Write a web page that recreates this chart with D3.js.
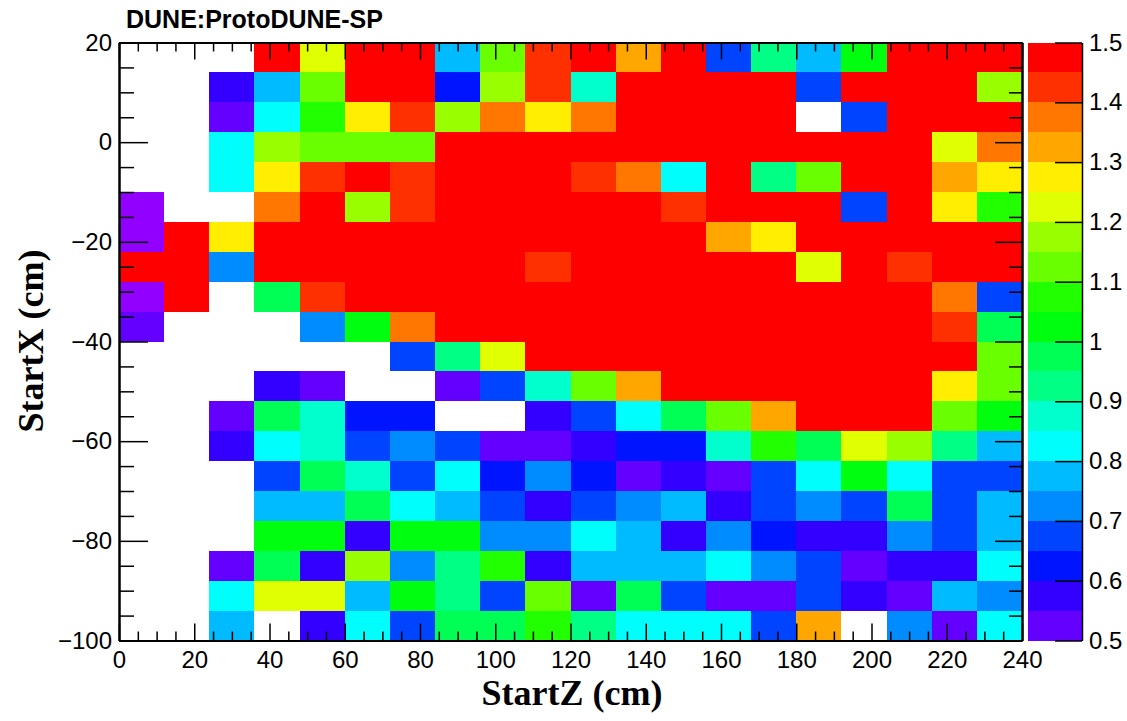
<!DOCTYPE html>
<html>
<head>
<meta charset="utf-8">
<script src="https://cdn.jsdelivr.net/npm/d3@7"></script>
<style>
  html, body { margin: 0; padding: 0; background: #fff; }
  svg { display: block; }
</style>
</head>
<body>
<svg id="chart" width="1127" height="721"></svg>
<script>
// Bin edges of the 2D histogram (cm)
const startZEdges = [0, 12, 24, 36, 48, 60, 72, 84, 96, 108, 120, 132, 144, 156, 168, 180, 192, 204, 216, 228, 240];
// StartX edges from the top row down
const startXEdges = [20, 14, 8, 2, -4, -10, -16, -22, -28, -34, -40, -46, -52, -58, -64, -70, -76, -82, -88, -94, -100];

// Bin contents, one array per StartX row (top row first), one entry per StartZ bin; null = empty bin
const row00 = [null, null, null, 1.48, 1.23, 1.48, 1.48, 0.78, 1.13, 1.43, 1.48, 1.33, 1.48, 0.68, 0.93, 0.78, 1.03, 1.48, 1.48, 1.48];
const row01 = [null, null, 0.58, 0.78, 1.13, 1.48, 1.48, 0.63, 1.18, 1.43, 0.88, 1.48, 1.48, 1.48, 1.48, 0.68, 1.48, 1.48, 1.48, 1.18];
const row02 = [null, null, 0.53, 0.83, 1.08, 1.28, 1.43, 1.18, 1.38, 1.28, 1.38, 1.48, 1.48, 1.48, 1.48, null, 0.68, 1.48, 1.48, 1.48];
const row03 = [null, null, 0.83, 1.18, 1.13, 1.13, 1.13, 1.48, 1.48, 1.48, 1.48, 1.48, 1.48, 1.48, 1.48, 1.48, 1.48, 1.48, 1.23, 1.38];
const row04 = [null, null, 0.83, 1.28, 1.43, 1.48, 1.43, 1.48, 1.48, 1.48, 1.43, 1.38, 0.83, 1.48, 0.93, 1.13, 1.48, 1.48, 1.33, 1.28];
const row05 = [0.46, null, null, 1.38, 1.48, 1.18, 1.43, 1.48, 1.48, 1.48, 1.48, 1.48, 1.43, 1.48, 1.48, 1.48, 0.68, 1.48, 1.28, 1.08];
const row06 = [0.46, 1.48, 1.28, 1.48, 1.48, 1.48, 1.48, 1.48, 1.48, 1.48, 1.48, 1.48, 1.48, 1.33, 1.28, 1.48, 1.48, 1.48, 1.48, 1.48];
const row07 = [1.48, 1.48, 0.73, 1.48, 1.48, 1.48, 1.48, 1.48, 1.48, 1.43, 1.48, 1.48, 1.48, 1.48, 1.48, 1.23, 1.48, 1.43, 1.48, 1.48];
const row08 = [0.46, 1.48, null, 0.98, 1.43, 1.48, 1.48, 1.48, 1.48, 1.48, 1.48, 1.48, 1.48, 1.48, 1.48, 1.48, 1.48, 1.48, 1.38, 0.68];
const row09 = [0.53, null, null, null, 0.73, 1.03, 1.38, 1.48, 1.48, 1.48, 1.48, 1.48, 1.48, 1.48, 1.48, 1.48, 1.48, 1.48, 1.43, 0.98];
const row10 = [null, null, null, null, null, null, 0.68, 0.93, 1.23, 1.48, 1.48, 1.48, 1.48, 1.48, 1.48, 1.48, 1.48, 1.48, 1.48, 1.13];
const row11 = [null, null, null, 0.58, 0.53, null, null, 0.53, 0.68, 0.88, 1.13, 1.33, 1.48, 1.48, 1.48, 1.48, 1.48, 1.48, 1.28, 1.13];
const row12 = [null, null, 0.53, 0.98, 0.88, 0.63, 0.63, null, null, 0.58, 0.68, 0.83, 0.98, 1.13, 1.33, 1.48, 1.48, 1.48, 1.13, 1.03];
const row13 = [null, null, 0.58, 0.83, 0.88, 0.68, 0.73, 0.68, 0.53, 0.53, 0.58, 0.63, 0.63, 0.88, 1.08, 0.98, 1.23, 1.18, 0.93, 0.78];
const row14 = [null, null, null, 0.68, 0.98, 0.88, 0.68, 0.83, 0.63, 0.73, 0.63, 0.53, 0.58, 0.53, 0.68, 0.83, 1.03, 0.83, 0.68, 0.68];
const row15 = [null, null, null, 0.78, 0.78, 0.98, 0.83, 0.78, 0.68, 0.58, 0.68, 0.73, 0.78, 0.58, 0.68, 0.73, 0.68, 0.98, 0.68, 0.78];
const row16 = [null, null, null, 1.03, 1.03, 0.58, 1.03, 1.03, 0.73, 0.73, 0.83, 0.78, 0.58, 0.73, 0.63, 0.58, 0.58, 0.73, 0.68, 0.78];
const row17 = [null, null, 0.53, 0.98, 0.58, 1.18, 0.73, 0.93, 1.08, 0.58, 0.78, 0.78, 0.78, 0.83, 0.73, 0.68, 0.53, 0.58, 0.58, 0.83];
const row18 = [null, null, 0.83, 1.23, 1.23, 0.78, 1.03, 0.93, 0.68, 1.13, 0.53, 0.98, 0.68, 0.53, 0.53, 0.68, 0.58, 0.53, 0.78, 0.73];
const row19 = [null, null, 0.78, null, 0.58, 0.83, 0.68, 0.98, 0.98, 1.08, 0.93, 0.83, 0.83, 0.83, 0.68, 1.33, null, 0.73, 0.53, 0.83];
const binRows = [row00, row01, row02, row03, row04, row05, row06, row07, row08, row09,
                 row10, row11, row12, row13, row14, row15, row16, row17, row18, row19];

// Colour contours: 20 levels between 0.5 and 1.5
const contourLevels = [0.5, 0.55, 0.6, 0.65, 0.7, 0.75, 0.8, 0.85, 0.9, 0.95, 1.0,
                       1.05, 1.1, 1.15, 1.2, 1.25, 1.3, 1.35, 1.4, 1.45, 1.5];
// Rainbow palette: first entry is used below the lowest contour, then one per level
const levelColors = ["#9200ff",
  "#6300ff", "#3300ff", "#0014ff", "#0044ff", "#008bff", "#00bbff", "#00fffc", "#00ffcc", "#00ff85", "#00ff55",
  "#00ff0e", "#22ff00", "#69ff00", "#99ff00", "#e0ff00", "#ffee00", "#ffa700", "#ff7700", "#ff3000", "#ff0000"];

// Axis ticks
const startZTicks = [0, 20, 40, 60, 80, 100, 120, 140, 160, 180, 200, 220, 240];
const startXTicks = [-100, -80, -60, -40, -20, 0, 20];
const paletteTicks = [0.5, 0.6, 0.7, 0.8, 0.9, 1.0, 1.1, 1.2, 1.3, 1.4, 1.5];

const sansFont = "'Liberation Sans', Arial, Helvetica, sans-serif";
const serifFont = "'Liberation Serif', 'Times New Roman', Times, serif";

const svg = d3.select("#chart");
const frame = { left: 119, right: 1022, top: 42.5, bottom: 640.5 };
const bar = { left: 1028, right: 1082 };

const x = d3.scaleLinear().domain([0, 240]).range([frame.left, frame.right]);
const y = d3.scaleLinear().domain([-100, 20]).range([frame.bottom, frame.top]);
const zScale = d3.scaleLinear().domain([0.5, 1.5]).range([frame.bottom, frame.top]);
const color = d3.scaleThreshold().domain(contourLevels.slice(0, 20)).range(levelColors);

// Flatten the bins into cells
const cells = [];
binRows.forEach((row, i) => {
  row.forEach((v, j) => {
    if (v === null) return;
    cells.push({ z0: startZEdges[j], z1: startZEdges[j + 1], x0: startXEdges[i + 1], x1: startXEdges[i], v });
  });
});

svg.append("g")
  .attr("shape-rendering", "crispEdges")
  .selectAll("rect")
  .data(cells)
  .join("rect")
  .attr("x", d => x(d.z0))
  .attr("y", d => y(d.x1))
  .attr("width", d => x(d.z1) - x(d.z0))
  .attr("height", d => y(d.x0) - y(d.x1))
  .attr("fill", d => color(d.v));

function minorTicks(lo, hi, step, majors) {
  return d3.range(lo, hi + step / 2, step).filter(v => !majors.includes(v));
}
const startZMinor = minorTicks(0, 240, 5, startZTicks);
const startXMinor = minorTicks(-100, 20, 5, startXTicks);

function styleAxis(g, tickWidth) {
  g.selectAll(".tick line").attr("stroke", "#000").attr("stroke-width", tickWidth);
  g.select(".domain").attr("stroke", "#000").attr("stroke-width", 2);
  g.selectAll("text").attr("font-family", sansFont).attr("font-size", 24).attr("fill", "#000");
}

// Bottom axis
svg.append("g").attr("transform", `translate(0,${frame.bottom})`)
  .call(d3.axisBottom(x).tickValues(startZMinor).tickSize(-9).tickSizeOuter(0).tickFormat(""))
  .call(g => styleAxis(g, 1.5));
svg.append("g").attr("transform", `translate(0,${frame.bottom})`)
  .call(d3.axisBottom(x).tickValues(startZTicks).tickSize(-17).tickSizeOuter(0).tickPadding(10).tickFormat(d3.format("d")))
  .call(g => styleAxis(g, 1.5));

// Top axis (ticks only)
svg.append("g").attr("transform", `translate(0,${frame.top})`)
  .call(d3.axisTop(x).tickValues(startZMinor).tickSize(-9).tickSizeOuter(0).tickFormat(""))
  .call(g => styleAxis(g, 1.5));
svg.append("g").attr("transform", `translate(0,${frame.top})`)
  .call(d3.axisTop(x).tickValues(startZTicks).tickSize(-17).tickSizeOuter(0).tickFormat(""))
  .call(g => styleAxis(g, 1.5));

// Left axis
svg.append("g").attr("transform", `translate(${frame.left},0)`)
  .call(d3.axisLeft(y).tickValues(startXMinor).tickSize(-15).tickSizeOuter(0).tickFormat(""))
  .call(g => styleAxis(g, 1.5));
svg.append("g").attr("transform", `translate(${frame.left},0)`)
  .call(d3.axisLeft(y).tickValues(startXTicks).tickSize(-29).tickSizeOuter(0).tickPadding(7).tickFormat(d3.format("d")))
  .call(g => styleAxis(g, 1.5));

// Right axis (ticks only)
svg.append("g").attr("transform", `translate(${frame.right},0)`)
  .call(d3.axisRight(y).tickValues(startXMinor).tickSize(-13).tickSizeOuter(0).tickFormat(""))
  .call(g => styleAxis(g, 1.5));
svg.append("g").attr("transform", `translate(${frame.right},0)`)
  .call(d3.axisRight(y).tickValues(startXTicks).tickSize(-27).tickSizeOuter(0).tickFormat(""))
  .call(g => styleAxis(g, 1.5));

// Palette bar
const bands = contourLevels.slice(0, 20).map((lo, k) => ({ lo, hi: contourLevels[k + 1] }));
svg.append("g")
  .attr("shape-rendering", "crispEdges")
  .selectAll("rect")
  .data(bands)
  .join("rect")
  .attr("x", bar.left)
  .attr("width", bar.right - bar.left)
  .attr("y", d => zScale(d.hi))
  .attr("height", d => zScale(d.lo) - zScale(d.hi))
  .attr("fill", d => color((d.lo + d.hi) / 2));

svg.append("g").attr("transform", `translate(${bar.right},0)`)
  .call(d3.axisRight(zScale).tickValues(paletteTicks).tickSize(-27).tickSizeOuter(0).tickPadding(7).tickFormat(d3.format("~g")))
  .call(g => styleAxis(g, 1.5))
  .call(g => g.select(".domain").attr("stroke-width", 1.5));

// Titles
svg.append("text")
  .attr("x", 126).attr("y", 28)
  .attr("font-family", sansFont).attr("font-weight", "bold").attr("font-size", 25)
  .text("DUNE:ProtoDUNE-SP");

svg.append("text")
  .attr("x", 572).attr("y", 705)
  .attr("text-anchor", "middle")
  .attr("font-family", serifFont).attr("font-weight", "bold").attr("font-size", 36)
  .text("StartZ (cm)");

svg.append("text")
  .attr("transform", `translate(43,341) rotate(-90)`)
  .attr("text-anchor", "middle")
  .attr("font-family", serifFont).attr("font-weight", "bold").attr("font-size", 36)
  .text("StartX (cm)");
</script>
</body>
</html>
